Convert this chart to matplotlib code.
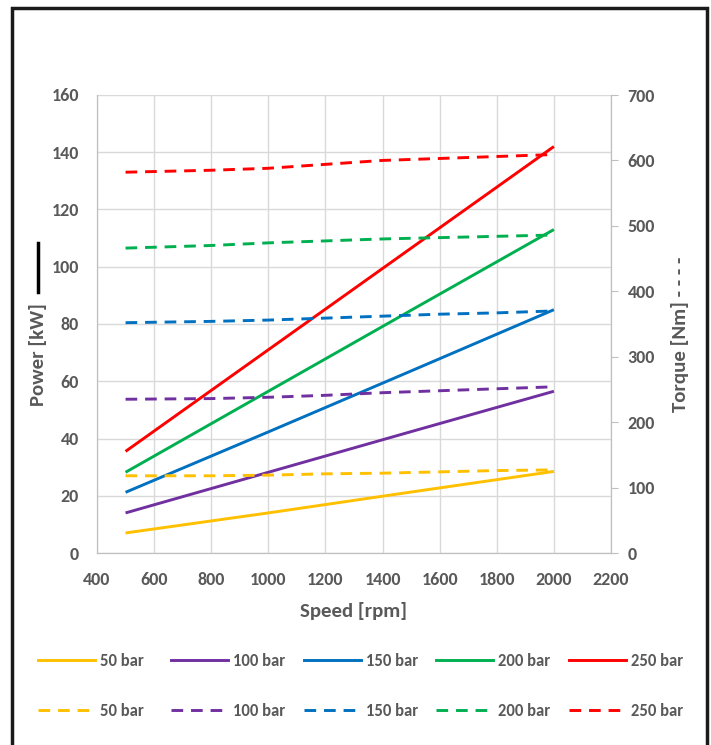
import matplotlib
matplotlib.use("Agg")
import matplotlib.pyplot as plt
from matplotlib.lines import Line2D
from matplotlib.patches import Rectangle

# ---- data ------------------------------------------------------------------
pressures = ["50 bar", "100 bar", "150 bar", "200 bar", "250 bar"]
colors = ["#FFC000", "#7030A0", "#0070C0", "#00B050", "#FF0000"]

speed_power = [500, 1000, 1500, 2000]
power_50 = [7.0, 14.0, 21.3, 28.5]
power_100 = [14.0, 28.2, 42.4, 56.5]
power_150 = [21.2, 42.3, 63.6, 85.0]
power_200 = [28.2, 56.5, 84.8, 113.0]
power_250 = [35.5, 71.0, 106.5, 142.0]

speed_torque = [500, 800, 1000, 1200, 1400, 1600, 1800, 2000]
torque_50 = [118, 118, 119, 121, 122, 124, 126, 127]
torque_100 = [235, 236, 238, 241, 245, 248, 251, 254]
torque_150 = [352, 354, 356, 359, 362, 365, 367, 370]
torque_200 = [466, 470, 474, 477, 480, 482, 484, 486]
torque_250 = [582, 585, 588, 594, 600, 603, 606, 609]

power = [power_50, power_100, power_150, power_200, power_250]
torque = [torque_50, torque_100, torque_150, torque_200, torque_250]

# ---- style ------------------------------------------------------------------
plt.rcParams["font.family"] = ["Carlito", "DejaVu Sans"]
plt.rcParams["font.weight"] = "bold"
txt = "#595959"
grid_c = "#D9D9D9"
dash = (0, (4, 2.7))
lw = 2.1

fig = plt.figure(figsize=(7.11, 7.45), dpi=100)
ax = fig.add_axes([97 / 711, 1 - 553 / 745, (611 - 97) / 711, (553 - 95) / 745])
ax2 = ax.twinx()

for c, p in zip(colors, power):
    ax.plot(speed_power, p, color=c, lw=lw, solid_capstyle="butt")
for c, t in zip(colors, torque):
    ax2.plot(speed_torque, t, color=c, lw=lw, linestyle=dash, dash_capstyle="butt")

ax.set_xlim(400, 2200)
ax.set_ylim(0, 160)
ax2.set_ylim(0, 700)
ax.set_xticks(range(400, 2201, 200))
ax.set_yticks(range(0, 161, 20))
ax2.set_yticks(range(0, 701, 100))
ax.grid(True, color=grid_c, lw=1)
ax.set_axisbelow(True)

for a in (ax, ax2):
    for s in a.spines.values():
        s.set_color("#BFBFBF")
    a.spines["top"].set_visible(False)
ax.tick_params(axis="both", length=0, labelsize=13, labelcolor=txt)
ax.tick_params(axis="y", pad=13)
ax.tick_params(axis="x", pad=13.5)
ax2.tick_params(axis="y", length=5, color="#BFBFBF", labelsize=13, labelcolor=txt, pad=7)

ax.set_xlabel("Speed [rpm]", fontsize=15, color=txt, fontweight="bold", labelpad=10)
fig.text(38 / 711, 1 - 355 / 745, "Power [kW]", rotation=90, ha="center", va="center",
         fontsize=15, color=txt, fontweight="bold")
fig.add_artist(Line2D([38 / 711, 38 / 711], [1 - 243 / 745, 1 - 292 / 745],
                      color="black", lw=2.5, transform=fig.transFigure))
fig.text(680 / 711, 1 - 334 / 745, "Torque [Nm] - - - -", rotation=90, ha="center",
         va="center", fontsize=15, color=txt, fontweight="bold")

# legend: one small legend per pressure so the columns are evenly spaced
col_x = [38, 171, 304, 436, 569]
for x0, c, name in zip(col_x, colors, pressures):
    h = [Line2D([], [], color=c, lw=lw), Line2D([], [], color=c, lw=lw, linestyle=dash)]
    leg = fig.legend(h, [name, name], loc="center left",
                     bbox_to_anchor=(x0 / 711, 1 - 686 / 745), frameon=False,
                     fontsize=12, handlelength=3.4, handletextpad=0.34,
                     labelspacing=2.0, borderpad=0, borderaxespad=0)
    for t in leg.get_texts():
        t.set_color(txt)

# outer frame
fig.add_artist(Rectangle((12 / 711, -0.05), (707 - 12) / 711, 1.05 - 8 / 745,
                         transform=fig.transFigure, fill=False, ec="#1a1a1a", lw=2.5))

fig.savefig("out.png", dpi=100)
